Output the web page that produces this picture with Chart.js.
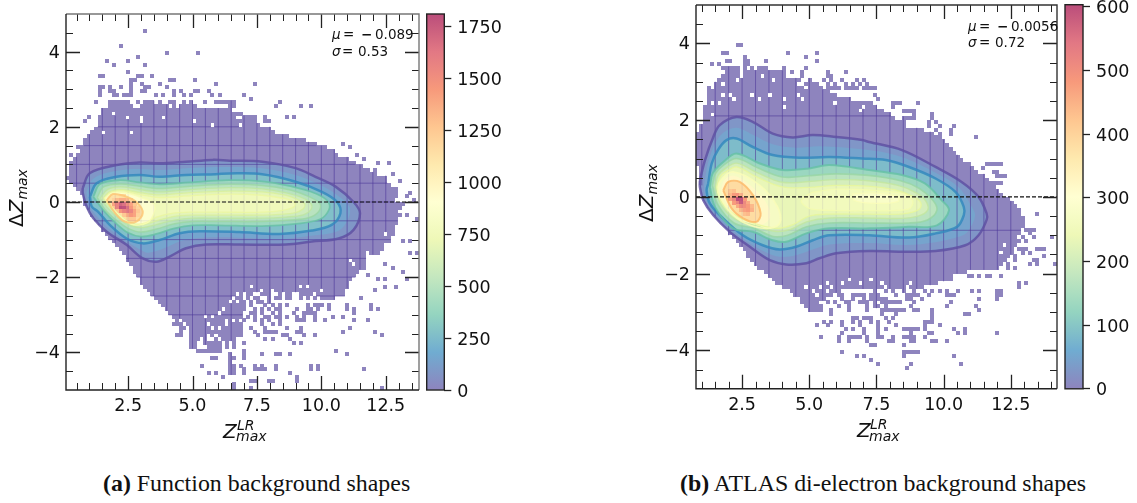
<!DOCTYPE html>
<html>
<head>
<meta charset="utf-8">
<script src="https://cdn.jsdelivr.net/npm/chart.js@4"></script>
<style>
  body { margin: 0; background: #fff; width: 1137px; height: 503px; overflow: hidden; position: relative; }
  canvas { position: absolute; }
  .t { position: absolute; white-space: nowrap; font-family: "DejaVu Sans", sans-serif; color: #111; line-height: 1; }
  .i { font-style: italic; }
  .cap { position: absolute; white-space: nowrap; font-family: "Liberation Serif", serif; font-size: 23.9px; color: #111; line-height: 1; }
  .ylab { transform: rotate(-90deg); transform-origin: left bottom; font-size: 20px; }
  .ylab sub { font-size: 14px; vertical-align: -4px; line-height: 0; }
</style>
</head>
<body>
<canvas id="grafA" width="424" height="430" style="left:0;top:0"></canvas>
<canvas id="barraA" width="90" height="430" style="left:420px;top:0"></canvas>
<canvas id="grafB" width="432" height="429" style="left:630px;top:0"></canvas>
<canvas id="barraB" width="70" height="429" style="left:1060px;top:0"></canvas>

<div class="t i" style="left:332px;top:28px;font-size:13.5px">μ</div>
<div class="t" style="left:343px;top:28px;font-size:13.5px">=</div>
<div class="t" style="left:361px;top:28px;font-size:13.5px"><b>−</b></div>
<div class="t" style="left:375px;top:28px;font-size:13.5px">0.089</div>
<div class="t i" style="left:332px;top:45px;font-size:13.5px">σ</div>
<div class="t" style="left:342px;top:45px;font-size:13.5px">=</div>
<div class="t" style="left:358px;top:45px;font-size:13.5px">0.53</div>

<div class="t i" style="left:968px;top:20px;font-size:13.5px">μ</div>
<div class="t" style="left:979px;top:20px;font-size:13.5px">=</div>
<div class="t" style="left:997px;top:20px;font-size:13.5px"><b>−</b></div>
<div class="t" style="left:1011px;top:20px;font-size:13.5px">0.0056</div>
<div class="t i" style="left:968px;top:36px;font-size:13.5px">σ</div>
<div class="t" style="left:979px;top:36px;font-size:13.5px">=</div>
<div class="t" style="left:995px;top:36px;font-size:13.5px">0.72</div>

<div class="t i" style="left:223px;top:421px;font-size:20px">Z</div>
<div class="t i" style="left:237px;top:418px;font-size:14px">LR</div>
<div class="t i" style="left:236px;top:429px;font-size:14px">max</div>
<div class="t i" style="left:857px;top:420px;font-size:20px">Z</div>
<div class="t i" style="left:870px;top:417px;font-size:14px">LR</div>
<div class="t i" style="left:869px;top:429px;font-size:14px">max</div>

<div class="t ylab" style="left:26px;top:207px">Δ<span class="i">Z<sub>max</sub></span></div>
<div class="t ylab" style="left:656px;top:202px">Δ<span class="i">Z<sub>max</sub></span></div>

<div class="cap" style="left:103px;top:472px"><b>(a)</b> Function background shapes</div>
<div class="cap" style="left:680px;top:472px"><b>(b)</b> ATLAS di-electron background shapes</div>

<script>
// eixos
const xMajorA = [2.5, 5, 7.5, 10, 12.5];
const xMajorB = [2.5, 5, 7.5, 10, 12.5];
const yMajor = [-4, -2, 0, 2, 4];
const barTicksA = [0, 250, 500, 750, 1000, 1250, 1500, 1750];
const barTicksB = [0, 100, 200, 300, 400, 500, 600];

// painel a: linhas do histograma, de baixo para cima [primeira, ultima coluna] a partir da linha 18
const rowsA = [[31,45],[30,46],[29,47],[28,48],[27,46],[26,57],[25,75],[24,78],[23,78],[22,79],[21,79],[21,80],[20,81],[19,82],[19,84],[18,84],[17,84],[17,84],[16,88],[15,89],[14,89],[13,91],[12,91],[11,92],[10,92],[10,92],[9,93],[8,93],[7,93],[7,93],[6,94],[5,94],[5,92],[5,93],[4,93],[3,92],[2,91],[1,90],[0,90],[1,87],[1,85],[1,83],[1,81],[2,79],[3,76],[4,75],[4,73],[5,70],[5,67],[6,62],[7,58],[8,57],[9,54],[9,53],[9,52],[10,49],[10,46]];
const sparseA = [
  [95,'22'],[91,'15'],[89,'28 37'],[88,'20'],[87,'11 17'],[86,'13 22'],[84,'17'],[83,'9-10 20-21 24'],[82,'18-19 29-30 36'],[81,'18 21 26 42 53'],[80,'9-10 12 15 18 22-23 28'],
  [79,'9 12-13 18 21-22 30 32 36-37 40'],[78,'9 13-14 16-18 25 27 30 33 35 41 43 50'],[77,'52'],[76,'8 12-17 20 22-24 26 29-30 33 35 39 42-47 60'],[75,'12-18 21-25 26-28 30 32-36 46-47 59 66 69'],
  [72,'6 53 56 62 64'],[71,'5 53 56-57'],[68,'8'],[66,'5'],[64,'3'],[62,'1'],
  [65,'78'],[64,'80'],[62,'82'],[61,'84'],[60,'88 91'],[58,'87'],[57,'92'],[56,'90'],[55,'94'],[53,'93'],[52,'97'],[51,'96'],[50,'98'],[49,'93 95'],[46,'94 96'],[45,'99'],[39,'95 97'],[36,'97 99'],
  [33,'83 90'],[32,'84 92'],[31,'95'],[30,'85'],[29,'88 90 96'],[27,'90 93'],[26,'87'],[24,'83'],[22,'86'],[21,'88'],[20,'81'],[18,'85'],
  [22,'47-50 52 56 58 60 62 68 70-72 74 79'],[21,'47 49-50 53 55 57 59-60 65 68-69 71 74 79 81 86'],[20,'46 48-49 52-53 55 58 60 64 67-70'],[19,'47-49 51 53 56-57 59-60 62 65 67 70 75 78'],[18,'46 48 50 53 55 57 60 65-67 70 73 81'],
  [17,'30-32 34-39 41-44 46-49 55 58 60'],[16,'32-33 35-40 42 44-49 52 56 62 66 80'],[15,'32 35-49 53 56-59 65-66 78 87'],[14,'31-32 35-39 41 43-49 54 61-62 67 70 89'],[13,'35-37 39 42 44-47 56 58 63'],[12,'35-36 39-43 45 47 50 64 66'],[11,'35-36 40-43 45 47'],[10,'37-43 50 76'],
  [9,'46 50 55 59-60 63 79'],[8,'41-42 46-47 50'],[7,'46'],[6,'38 46-47 49 53 55 59 69 71'],[5,'46-47 50 53-56 59 69 71 84'],[4,'40 42 46-47 50 63'],[3,'44 65'],[2,'52-53 57-58 65'],[1,'47'],[0,'47 52 89']
];
const holesA = [[73,'13'],[72,'17 21 27'],[71,'21 36'],[70,'41'],[68,'10 18'],[72,'48-49'],[70,'49'],[25,'48 50 53-54 58-59 61 64-65 70'],[24,'47 50 52 55-56 58 61 64-65 67 69 71'],[23,'46 48 51 53 56'],[26,'55 58 72'],[27,'52 66 68'],[21,'44'],[20,'43'],[18,'32 45'],[19,'39 41'],[30,'84'],[41,'90'],[36,'85'],[34,'80'],[33,'81']];
const peakA = [[51,15,[1150,1150]],[50,13,[1200,1300,1350,1350,1300,1200]],[49,13,[1400,1550,1700,1650,1500,1400,1250]],[48,13,[1250,1550,1800,1780,1650,1450,1300,1200]],[47,14,[1250,1450,1550,1600,1550,1400,1250]],[46,16,[1250,1350,1450,1400,1200]],[45,17,[1200,1250,1250,1150]]];

// painel a: contornos
const a0 = [[.74,.37],[1.02,.77],[2.05,.98],[2.95,1.05],[3.72,1.03],[4.75,1.07],[5.78,1.12],[6.43,1.1],[7.7,1.07],[9,.9],[9.77,.67],[10.55,.41],[11.25,0],[11.5,-.3],[11.25,-.74],[10.67,-.97],[9.63,-1.05],[8.62,-1.13],[6.81,-1.13],[5.53,-1.13],[4.75,-1.23],[4.11,-1.45],[3.6,-1.59],[3.07,-1.5],[2.44,-1.14],[1.67,-.79],[1.15,-.43],[.89,-.12],[.74,.24]];
const aFaint = [[.88,.25],[1.15,.62],[2.05,.83],[2.95,.88],[3.72,.85],[4.75,.9],[5.9,.93],[6.43,.93],[7.7,.9],[9,.72],[9.9,.47],[10.58,.2],[11.1,-.15],[10.95,-.57],[10.55,-.8],[9.6,-.9],[8.4,-.99],[6.8,-.95],[5.4,-.95],[4.6,-1.03],[3.9,-1.23],[3.3,-1.35],[3.07,-1.3],[2.44,-1.05],[1.73,-.7],[1.25,-.35],[1,-.12]];
const a1 = [[1.02,.14],[1.28,.5],[2.05,.67],[2.95,.72],[3.72,.67],[4.75,.72],[5.91,.74],[6.43,.76],[7.7,.74],[9,.54],[10.02,.27],[10.61,0],[10.74,-.3],[10.4,-.61],[9.63,-.76],[8.36,-.85],[6.81,-.8],[5.27,-.78],[4.5,-.83],[3.72,-1.01],[3.07,-1.1],[2.44,-.97],[1.79,-.61],[1.34,-.26],[1.09,-.12]];
const a2 = [[1.15,.14],[1.41,.48],[2.18,.58],[2.95,.52],[3.72,.47],[4.88,.52],[6.4,.58],[7.7,.55],[8.8,.42],[9.8,.22],[10.25,.02],[10.3,-.2],[9.95,-.46],[9,-.58],[7.7,-.64],[6,-.62],[5,-.62],[4.3,-.7],[3.6,-.85],[3,-.92],[2.5,-.82],[2,-.55],[1.55,-.23]];
const a3 = [[1.3,.12],[1.55,.4],[2.2,.48],[2.95,.42],[3.7,.36],[4.9,.42],[6.4,.47],[7.7,.44],[8.8,.32],[9.5,.15],[9.95,-.05],[9.9,-.25],[9.5,-.42],[8.8,-.48],[7.7,-.52],[6,-.52],[5,-.52],[4.3,-.58],[3.6,-.72],[3,-.8],[2.5,-.7],[2,-.46],[1.6,-.2]];
const a4 = [[1.42,.1],[1.7,.33],[2.2,.4],[2.95,.33],[3.7,.27],[4.9,.33],[6.4,.38],[7.7,.35],[8.6,.25],[9.3,.1],[9.6,-.05],[9.6,-.2],[9.3,-.34],[8.6,-.4],[7.7,-.43],[6,-.43],[5,-.43],[4.3,-.48],[3.6,-.6],[3.05,-.68],[2.5,-.6],[2.05,-.38],[1.7,-.15]];
const a5 = [[1.52,.1],[1.8,.28],[2.25,.33],[2.95,.25],[3.7,.19],[4.9,.25],[6.4,.29],[7.7,.27],[8.6,.18],[9.1,.06],[9.35,-.05],[9.3,-.18],[9,-.28],[8.4,-.33],[7.7,-.35],[6,-.35],[5,-.35],[4.3,-.38],[3.6,-.5],[3.1,-.6],[2.6,-.55],[2.1,-.33],[1.75,-.1]];
const a6 = [[1.58,.1],[1.85,.26],[2.3,.3],[2.95,.2],[3.7,.12],[5,.17],[6.4,.21],[7.7,.18],[8.5,.1],[8.95,0],[8.95,-.12],[8.5,-.22],[7.7,-.27],[6,-.27],[5,-.27],[4.2,-.3],[3.6,-.4],[3.15,-.56],[2.65,-.6],[2.15,-.33],[1.8,-.1]];
const a7 = [[1.6,.1],[1.9,.25],[2.4,.24],[3,.12],[3.5,-.05],[3.5,-.3],[3.25,-.55],[2.7,-.6],[2.2,-.38],[1.85,-.12]];
const a8 = [[1.67,.05],[1.91,.21],[2.44,.14],[2.87,-.03],[3.07,-.29],[2.82,-.52],[2.37,-.52],[1.99,-.29]];
const fillsA = [a0, aFaint, a1, a2, a3, a4, a5, a6, a7, a8];
const fillLevelsA = [85, 150, 270, 400, 500, 590, 680, 750, 880, 1130];
const linesA = [a0, a1, a2, a3, a4, a5, a6, a7, a8];
const lineLevelsA = [0, 180, 360, 500, 600, 680, 760, 850, 1180];
const lineWidthsA = [2.5, 2.5, 1.8, 1.5, 1.3, 1.3, 1.3, 1.3, 2];

// painel b: a partir da linha 20
const rowsB = [[31,33],[30,33],[29,33],[29,34],[27,37],[26,39],[24,62],[22,66],[21,70],[20,70],[19,74],[17,83],[16,84],[15,85],[14,86],[14,87],[13,87],[12,88],[11,88],[10,88],[9,89],[9,89],[8,90],[7,90],[6,90],[5,89],[4,89],[3,88],[3,87],[2,86],[2,84],[2,83],[2,82],[1,81],[1,80],[1,78],[1,77],[1,76],[0,75],[0,73],[0,72],[0,71],[0,70],[0,69],[0,68],[0,66],[0,64],[1,61],[1,57],[2,56],[2,54],[2,53],[2,51],[2,49],[3,48],[3,42],[3,38],[3,36]];
const sparseB = [
  [89,'11-12'],[87,'7-8 25 33'],[86,'13 30'],[85,'8-9 13-14 19 33'],[84,'4 6 13-14'],[83,'7-11 13 15 17-19 24 30'],[82,'8-11 13-24 26 29 36 41'],[81,'7-11 13-17 19-24 29 36-37'],[80,'6-10 12-20 22-28 31 35 37 40 44 46'],[79,'5-6 8-27 30-33 36 38 41 43 45 47'],[78,'3 5-29 31-34 36-39 41-44 46-48'],
  [78,'49'],[76,'49'],[75,'50'],[74,'54-56 61'],[73,'54'],[72,'57-60'],[71,'60 65'],[70,'57-60 65'],[69,'57 64 66'],[68,'64 67 71'],[67,'62 66 70'],[66,'63 65 67 70'],[65,'65 67 77'],[58,'80-84'],[57,'79'],[56,'82-83'],[55,'79 83-85'],[54,'78'],[53,'82-84'],
  [46,'89'],[45,'94'],[44,'90'],[41,'91-93'],[40,'92'],[39,'87 90 93 98'],[38,'86-89 91'],[36,'89-91 94-96'],[35,'90 92'],[34,'88 96'],[33,'88 93-94'],[32,'86 92 94 99'],[31,'86 88'],
  [29,'75-76 78 80-81 84'],[27,'89 91'],[26,'89'],[25,'76 78 83-84'],[31,'17'],
  [25,'49 52 54 57 60 63 65 67 69 72 76'],[24,'39-40 43-46 48-50 55 58-61 64 69-71 83-84'],[23,'33 35 40 43 46 48-52 58 59 62 78 83'],[22,'30-33 36 38 41-42 45-47 49 51-56 60 70'],[21,'30-34 39 42 47 49-50 52 59 69 77'],[20,'34 37 42 47 52 51-57 60-61 65 78'],[19,'37 51 55 65 74-75'],[18,'43-44 46-47 48 52 54 65'],
  [17,'35 37 40 43 45 48 50 53 63-65'],[16,'33 36 40 45 50 50 55 63 67'],[15,'41 43 46 50 52 57-61 63 71 74'],[14,'40 46 50 59 64-65 72 74 83'],[13,'34 39 42-45 47 50-51 54 57-60 63'],[12,'39 42 47 53-54 59-60 65-66 69'],[11,'48-49 49 57'],[9,'40 57 58-61'],[8,'44 46 57 71'],[7,'48 48'],[6,'50 50 59 73'],[5,'58']
];
const holesB = [[76,'7 9 15 20 28'],[75,'10 17 24 29'],[74,'4 6 38'],[73,'24 46'],[72,'45'],[71,'4'],[26,'30 34 37 52 58'],[27,'36 40 45 51 59'],[28,'42 48'],[25,'32 36'],[24,'33'],[30,'75'],[37,'85'],[35,'84']];
const peakB = [[51,9,[420,430]],[50,9,[440,480,490,450]],[49,9,[470,510,600,590,480]],[48,10,[480,520,580,510,460]],[47,11,[460,500,500,480,440]],[46,12,[440,470,480,450]],[45,13,[430,440]]];

const b0 = [[.93,.43],[1.12,.96],[1.43,1.56],[1.67,1.87],[2.29,2.08],[2.91,1.95],[3.64,1.65],[4.38,1.55],[5.12,1.61],[6,1.56],[6.97,1.48],[7.23,1.43],[8.45,1.22],[9.7,.78],[10.67,.39],[11.3,0],[11.6,-.43],[11.6,-.6],[11.3,-1],[10.81,-1.26],[9.7,-1.41],[8.45,-1.43],[7.23,-1.41],[6,-1.47],[5.38,-1.6],[4.89,-1.73],[4.14,-1.76],[3.53,-1.65],[2.79,-1.3],[2.04,-.91],[1.43,-.48],[1.06,-.09],[.93,.26]];
const bFaint = [[1.08,.3],[1.24,.9],[1.5,1.39],[1.8,1.67],[2.29,1.8],[2.9,1.62],[3.64,1.37],[4.5,1.28],[5.4,1.32],[6.97,1.24],[7.85,1.15],[8.6,1],[9.7,.63],[10.55,.26],[11,-.2],[11.17,-.5],[10.9,-.9],[10.65,-1.02],[9.7,-1.18],[8.6,-1.25],[7.2,-1.2],[5.75,-1.24],[5.1,-1.38],[4.5,-1.52],[3.9,-1.56],[3.4,-1.45],[2.66,-1.15],[1.9,-.73],[1.35,-.32],[1.12,.05]];
const b1 = [[1.24,.35],[1.37,.87],[1.6,1.22],[1.92,1.48],[2.29,1.52],[2.9,1.3],[3.64,1.09],[4.64,1.02],[5.75,1.04],[6.97,1],[7.85,.96],[8.71,.78],[9.7,.48],[10.44,.13],[10.75,-.26],[10.75,-.48],[10.5,-.78],[9.7,-.95],[8.71,-1.06],[7.23,-1],[5.75,-1],[5.13,-1.13],[4.51,-1.3],[3.9,-1.37],[3.27,-1.26],[2.53,-1],[1.78,-.55],[1.3,-.17],[1.18,.17]];
const b2 = [[1.3,.26],[1.41,.62],[1.8,.91],[2.29,1.13],[3.16,.87],[4.01,.7],[5,.74],[5.75,.83],[7.23,.7],[8.45,.57],[9.3,.35],[9.93,-.09],[10.2,-.35],[9.75,-.74],[8.7,-.78],[7.23,-.82],[5.75,-.82],[4.89,-.95],[4.14,-1.17],[3.64,-1.13],[2.9,-.91],[2.16,-.82],[1.49,-.26]];
const b3 = [[1.4,.3],[1.5,.6],[1.8,.82],[2.3,1],[3.1,.75],[4,.52],[5,.55],[6,.6],[7.2,.56],[8.4,.42],[9.1,.22],[9.6,-.09],[9.75,-.35],[9.4,-.6],[8.7,-.68],[7.2,-.68],[5.75,-.68],[4.9,-.78],[4.2,-1],[3.65,-1.03],[2.95,-.82],[2.2,-.68],[1.6,-.2]];
const b4 = [[1.5,.25],[1.6,.55],[1.9,.75],[2.3,.88],[3.1,.62],[4,.38],[5,.4],[6,.45],[7.2,.42],[8.3,.3],[9,.1],[9.35,-.12],[9.4,-.35],[9.05,-.5],[8.4,-.56],[7.2,-.55],[5.75,-.55],[4.9,-.65],[4.3,-.85],[3.75,-.9],[3,-.75],[2.25,-.58],[1.7,-.18]];
const b5 = [[1.55,.25],[1.7,.55],[2,.7],[2.3,.78],[3.1,.5],[4,.26],[5,.25],[6,.3],[7.2,.28],[8.2,.18],[8.9,0],[9.15,-.15],[9.1,-.32],[8.5,-.44],[7.2,-.45],[5.75,-.45],[5,-.5],[4.4,-.72],[3.85,-.82],[3.1,-.72],[2.3,-.5],[1.75,-.15]];
const b6 = [[1.6,.1],[1.67,.39],[2.16,.65],[3.16,.3],[3.82,-.26],[3.9,-.69],[3.4,-.82],[2.6,-.68],[2,-.35]];
const bBlob = [[5.1,.12],[6,.2],[7.2,.18],[8.5,.08],[8.85,-.1],[8.7,-.32],[7.2,-.36],[5.7,-.35],[5,-.3],[4.7,-.1]];
const bBlob2 = [[6.6,.08],[7.5,.1],[8.3,0],[8.3,-.12],[7.5,-.17],[6.7,-.1]];
const b7 = [[1.7,.15],[1.85,.45],[2.2,.55],[2.75,.33],[3.35,-.1],[3.55,-.5],[3.25,-.72],[2.6,-.62],[2.05,-.3]];
const b8 = [[1.8,.17],[1.98,.39],[2.41,.39],[2.91,.04],[3.19,-.43],[3.03,-.65],[2.54,-.56],[2.11,-.3]];
const fillsB = [b0, bFaint, b1, b2, b3, b4, b5, b6, bBlob, bBlob2, b7, b8];
const fillLevelsB = [28, 48, 85, 130, 170, 205, 235, 270, 255, 280, 320, 385];
const linesB = [b0, b1, b2, b3, b4, b5, b6, bBlob, bBlob2, b8];
const lineLevelsB = [0, 60, 120, 165, 205, 245, 290, 275, 290, 410];
const lineWidthsB = [2.5, 2.5, 2, 1.6, 1.4, 1.3, 1.8, 1.3, 1.3, 2];

const spectral = [[94,79,162],[50,136,189],[102,194,165],[171,221,164],[230,245,152],[255,255,191],[254,224,139],[253,174,97],[244,109,67],[213,62,79],[158,1,66]];

function corBruta(f) {
  f = Math.max(0, Math.min(1, f)) * 10;
  const i = Math.min(9, Math.floor(f)), t = f - i;
  return spectral[i].map((c, k) => c + (spectral[i + 1][k] - c) * t);
}
// alpha 0.7 sobre branco, como no colorbar
function corCell(f) {
  const c = corBruta(f).map(v => Math.round(v * 0.7 + 255 * 0.3));
  return `rgb(${c[0]}, ${c[1]}, ${c[2]})`;
}
function corLinha(f) {
  const c = corBruta(f).map(v => Math.round(v));
  return `rgba(${c[0]}, ${c[1]}, ${c[2]}, 0.82)`;
}

const cacheCell = {};
function imagemCell(cor) {
  if (!cacheCell[cor]) {
    const c = document.createElement('canvas');
    c.width = 4; c.height = 4;
    const g = c.getContext('2d');
    g.fillStyle = cor;
    g.fillRect(0, 0, 4, 4);
    cacheCell[cor] = c;
  }
  return cacheCell[cor];
}

function lerFaixa(txt) {
  const out = [];
  txt.split(' ').forEach(p => {
    const [a, b] = p.split('-').map(Number);
    for (let i = a; i <= (b === undefined ? a : b); i++) out.push(i);
  });
  return out;
}

function asPontos(lista, fechar) {
  const pts = lista.map(p => ({ x: p[0], y: p[1] }));
  if (fechar) pts.push({ x: lista[0][0], y: lista[0][1] });
  return pts;
}

// sem margem extra do chart.js, a area do grafico fica onde o padding manda
function semMargem(s) {
  s.paddingTop = 0; s.paddingBottom = 0; s.paddingLeft = 0; s.paddingRight = 0;
}

const ticksPlugin = {
  id: 'ticksDentro',
  afterDraw(chart, args, o) {
    const { ctx, chartArea: a, scales } = chart;
    ctx.save();
    const marca = (horizontal, v, len, w) => {
      ctx.lineWidth = w;
      ctx.strokeStyle = '#222';
      ctx.beginPath();
      if (horizontal) {
        const y = Math.round(scales.y.getPixelForValue(v)) + 0.5;
        ctx.moveTo(a.left, y); ctx.lineTo(a.left + len, y);
        ctx.moveTo(a.right, y); ctx.lineTo(a.right - len, y);
      } else {
        const x = Math.round(scales.x.getPixelForValue(v)) + 0.5;
        ctx.moveTo(x, a.bottom); ctx.lineTo(x, a.bottom - len);
        ctx.moveTo(x, a.top); ctx.lineTo(x, a.top + len);
      }
      ctx.stroke();
    };
    o.xMinor.forEach(v => marca(false, v, 7, 1));
    o.xMajor.forEach(v => marca(false, v, 14, 1.3));
    o.yMinor.forEach(v => marca(true, v, 7, 1));
    o.yMajor.forEach(v => marca(true, v, 14, 1.3));
    ctx.strokeStyle = o.corTopo;
    ctx.lineWidth = 1.4;
    ctx.beginPath();
    ctx.moveTo(a.left, a.top); ctx.lineTo(a.right, a.top); ctx.lineTo(a.right, a.bottom);
    ctx.stroke();
    ctx.strokeStyle = '#222';
    ctx.beginPath();
    ctx.moveTo(a.left, a.top); ctx.lineTo(a.left, a.bottom); ctx.lineTo(a.right, a.bottom);
    ctx.stroke();
    ctx.restore();
  }
};

function montarPainel(p) {
  const dx = (p.xMax - p.xMin) / 100, dy = 0.1;
  const ocupado = new Set();
  p.rows.forEach((r, i) => { for (let c = r[0]; c <= r[1]; c++) ocupado.add((p.rowBase + i) * 100 + c); });
  p.sparse.forEach(r => lerFaixa(r[1]).forEach(c => ocupado.add(r[0] * 100 + c)));
  p.holes.forEach(r => lerFaixa(r[1]).forEach(c => ocupado.delete(r[0] * 100 + c)));

  const centro = k => ({ x: p.xMin + (k % 100 + 0.5) * dx, y: -5 + (Math.floor(k / 100) + 0.5) * dy });
  const celulas = Array.from(ocupado).map(centro);

  // emendas do histograma: so aparecem onde ha celula
  const emendas = [];
  const corte = () => emendas.push({ x: NaN, y: NaN });
  p.seamX.forEach(v => {
    const c = Math.floor((v - p.xMin) / dx);
    let ini = -1;
    for (let r = 0; r <= 100; r++) {
      if (ocupado.has(r * 100 + c)) { if (ini < 0) ini = r; continue; }
      if (ini >= 0 && r - ini >= 6) { emendas.push({ x: v, y: -5 + ini * dy }, { x: v, y: -5 + r * dy }); corte(); }
      ini = -1;
    }
  });
  p.seamY.forEach(v => {
    const r = Math.floor((v + 5) / dy);
    let ini = -1;
    for (let c = 0; c <= 100; c++) {
      if (ocupado.has(r * 100 + c)) { if (ini < 0) ini = c; continue; }
      if (ini >= 0 && c - ini >= 6) { emendas.push({ x: p.xMin + ini * dx, y: v }, { x: p.xMin + c * dx, y: v }); corte(); }
      ini = -1;
    }
  });

  const pico = [];
  p.peak.forEach(r => r[2].forEach((v, i) => pico.push({ x: p.xMin + (r[1] + i + 0.5) * dx, y: -5 + (r[0] + 0.5) * dy, v })));

  const linhaFina = (dados, cor, largura) => ({ type: 'scatter', data: dados, showLine: true, pointRadius: 0, borderColor: cor, borderWidth: largura, fill: false, spanGaps: false });
  const ds = [];
  ds.push({ type: 'scatter', data: celulas, pointRadius: 2, pointStyle: imagemCell(corCell(0)) });
  p.fills.forEach((f, i) => {
    ds.push({ type: 'scatter', data: asPontos(f, true), showLine: true, pointRadius: 0, tension: 0.35, borderWidth: 0, fill: 'shape', backgroundColor: corCell(p.fillLevels[i] / p.max) });
    if (i === 2) ds.push(linhaFina(emendas, 'rgba(80, 60, 155, 0.55)', 1));
  });
  ds.push({ type: 'scatter', data: pico, pointRadius: 2, pointStyle: c => imagemCell(corCell(c.raw.v / p.max)) });
  ds.push(linhaFina(emendas, 'rgba(80, 60, 155, 0.1)', 1));
  p.lines.forEach((f, i) => {
    ds.push({ type: 'scatter', data: asPontos(f, true), showLine: true, pointRadius: 0, tension: 0.35, borderWidth: p.lineWidths[i], borderColor: corLinha(p.lineLevels[i] / p.max), fill: false });
  });
  const zero = linhaFina([{ x: p.xMin, y: 0 }, { x: p.xMax, y: 0 }], '#111', 1.2);
  zero.borderDash = [4, 2];
  ds.push(zero);
  ds.forEach((d, i) => { d.order = ds.length - i; });

  new Chart(document.getElementById(p.id), {
    data: { datasets: ds },
    plugins: [ticksPlugin],
    options: {
      responsive: false,
      animation: false,
      events: [],
      layout: { padding: p.padding },
      plugins: {
        legend: { display: false },
        tooltip: { enabled: false },
        ticksDentro: { xMajor: p.xMajor, xMinor: p.xMinor, yMajor: yMajor, yMinor: p.yMinor, corTopo: p.corTopo }
      },
      scales: {
        x: {
          type: 'linear', min: p.xMin, max: p.xMax,
          grid: { display: false, drawTicks: false }, border: { display: false },
          afterBuildTicks: s => { s.ticks = p.xMajor.map(v => ({ value: v })); },
          afterFit: s => { s.height = p.eixoX; semMargem(s); },
          ticks: { autoSkip: false, maxRotation: 0, padding: 6, color: '#111', font: { family: 'DejaVu Sans', size: 17.5 }, callback: v => v.toFixed(1) }
        },
        y: {
          type: 'linear', min: -5, max: 5,
          grid: { display: false, drawTicks: false }, border: { display: false },
          afterBuildTicks: s => { s.ticks = yMajor.map(v => ({ value: v })); },
          afterFit: s => { s.width = 66; semMargem(s); },
          ticks: { autoSkip: false, padding: 6, labelOffset: 1.5, color: '#111', font: { family: 'DejaVu Sans', size: 17.5 }, callback: v => String(v).replace('-', '−') }
        }
      }
    }
  });
}

function montarBarra(b) {
  new Chart(document.getElementById(b.id), {
    type: 'bar',
    data: {
      labels: [''],
      datasets: [{
        data: [[0, b.max]],
        barPercentage: 1,
        categoryPercentage: 1,
        backgroundColor: c => {
          const a = c.chart.chartArea;
          if (!a) return corCell(0);
          const g = c.chart.ctx.createLinearGradient(0, a.bottom, 0, a.top);
          for (let i = 0; i <= 20; i++) g.addColorStop(i / 20, corCell(i / 20));
          return g;
        }
      }]
    },
    plugins: [{
      id: 'moldura',
      afterDraw(chart) {
        const { ctx, chartArea: a } = chart;
        ctx.save();
        ctx.strokeStyle = '#222';
        ctx.lineWidth = 1.4;
        ctx.strokeRect(a.left, a.top, a.right - a.left, a.bottom - a.top);
        ctx.restore();
      }
    }],
    options: {
      responsive: false,
      animation: false,
      events: [],
      layout: { padding: b.padding },
      plugins: { legend: { display: false }, tooltip: { enabled: false } },
      scales: {
        x: { display: false },
        y: {
          position: 'right', min: 0, max: b.max,
          grid: { drawOnChartArea: false, tickLength: 7, tickColor: '#222', tickWidth: 1.3 },
          border: { display: false },
          afterBuildTicks: s => { s.ticks = b.ticks.map(v => ({ value: v })); },
          afterFit: s => { s.width = b.largura; semMargem(s); },
          ticks: { autoSkip: false, padding: 6, labelOffset: 2, color: '#111', font: { family: 'DejaVu Sans', size: 17.5 }, callback: v => String(v) }
        }
      }
    }
  });
}

function minorDe(ini, fim) {
  const out = [];
  for (let v = ini; v <= fim; v += 0.5) out.push(v);
  return out;
}

montarPainel({
  id: 'grafA', xMin: 0.09, xMax: 13.79, max: 1808, eixoX: 40, rowBase: 18,
  padding: { left: 0, top: 14, right: 3, bottom: 0 },
  rows: rowsA, sparse: sparseA, holes: holesA, peak: peakA,
  fills: fillsA, fillLevels: fillLevelsA, lines: linesA, lineLevels: lineLevelsA, lineWidths: lineWidthsA,
  xMajor: xMajorA, xMinor: minorDe(0.5, 13.5), yMinor: minorDe(-4.5, 4.5), corTopo: '#777',
  seamX: minorDe(0.5, 13.5), seamY: minorDe(-3, 2)
});
montarPainel({
  id: 'grafB', xMin: 0.785, xMax: 14.22, max: 603, eixoX: 40.2, rowBase: 20,
  padding: { left: 0, top: 4.7, right: 3.3, bottom: 0 },
  rows: rowsB, sparse: sparseB, holes: holesB, peak: peakB,
  fills: fillsB, fillLevels: fillLevelsB, lines: linesB, lineLevels: lineLevelsB, lineWidths: lineWidthsB,
  xMajor: xMajorB, xMinor: minorDe(1, 14), yMinor: minorDe(-4.5, 4.5), corTopo: '#333',
  seamX: minorDe(1, 13.5), seamY: [2.11, -0.87]
});
montarBarra({ id: 'barraA', max: 1808, ticks: barTicksA, largura: 65.7, padding: { left: 6.7, top: 14, right: 0, bottom: 40 } });
montarBarra({ id: 'barraB', max: 603, ticks: barTicksB, largura: 47, padding: { left: 5, top: 4.7, right: 0, bottom: 40.2 } });
</script>
</body>
</html>
